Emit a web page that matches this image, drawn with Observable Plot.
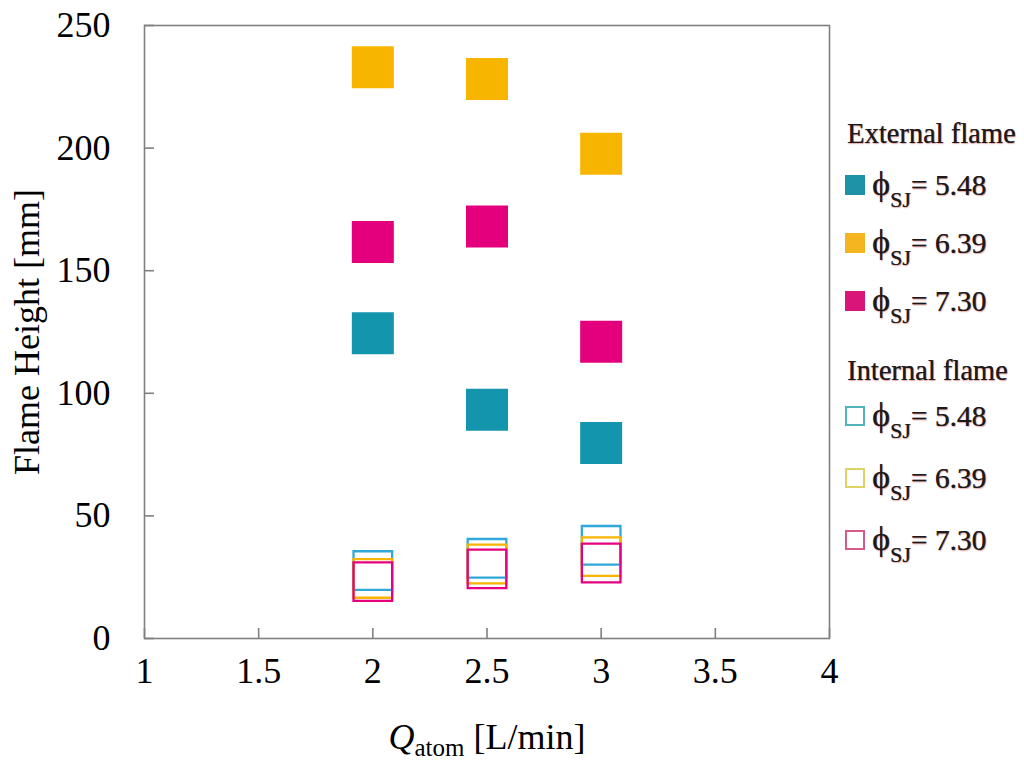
<!DOCTYPE html>
<html><head><meta charset="utf-8">
<script src="https://cdn.jsdelivr.net/npm/d3@7"></script>
<script src="https://cdn.jsdelivr.net/npm/@observablehq/plot@0.6"></script>
<style>
body{margin:0;background:#fff;}
#wrap{position:relative;width:1024px;height:760px;font-family:"Liberation Serif","Times New Roman",serif;}
#legend{position:absolute;left:845px;top:0;color:#1a1a1a;text-shadow:0.5px 0 0 rgba(40,20,20,0.6),0.8px 0.8px 1.2px rgba(200,40,40,0.45);}
.lt{position:absolute;left:2px;height:40px;line-height:40px;font-size:28.5px;white-space:nowrap;}
.row{position:absolute;left:0;height:40px;line-height:40px;font-size:29.5px;white-space:nowrap;padding-left:27px;}
.sw{position:absolute;left:0;top:10px;width:20px;height:20px;box-sizing:border-box;}
.phi{font-size:34px;line-height:0;}
.sub{font-size:22px;line-height:0;position:relative;top:12px;}
</style></head><body><div id="wrap"></div>
<script>
// ---- data ----
const qatom = [2, 2.5, 3];
// External flame heights [mm]
const ext548 = [124.5, 93.3, 79.7];
const ext639 = [233.0, 228.2, 197.7];
const ext730 = [161.7, 168.0, 121.0];
// Internal flame heights [mm]
const int548 = [27.7, 32.7, 38.0];
const int639 = [24.5, 30.4, 33.4];
const int730 = [23.2, 28.4, 30.8];
const phiLabels = ["5.48", "6.39", "7.30"];
const xTicks = [1, 1.5, 2, 2.5, 3, 3.5, 4];
const yTicks = [0, 50, 100, 150, 200, 250];

const extColors = ["#1396ad", "#f8b500", "#e4007c"];
const intColors = ["#30a8d8", "#f8b500", "#e5007f"];
const legExtColors = ["#1e93a8", "#f5b521", "#d9157a"];
const legIntColors = ["#4fb3b8", "#ded266", "#d45a8a"];

const extSeries = [ext548, ext639, ext730];
const intSeries = [int548, int639, int730];

const FONT = "'Liberation Serif','Times New Roman',serif";
const marks = [
  Plot.frame({stroke: "#808080", strokeWidth: 1.6}),
  Plot.axisX({ticks: xTicks, tickFormat: d => String(d), tickSize: -10, tickPadding: 29, stroke: "#808080", strokeWidth: 1.6,
    fontFamily: FONT, fontVariant: "normal", fill: "#000",
    label: "Qatom [L/min]", labelAnchor: "center", labelOffset: 110, labelArrow: false}),
  Plot.axisY({ticks: yTicks, tickFormat: d => String(d), tickSize: -10, tickPadding: 44, stroke: "#808080", strokeWidth: 1.6,
    fontFamily: FONT, fontVariant: "normal", fill: "#000",
    label: "Flame Height [mm]", labelAnchor: "center", labelOffset: 131, labelArrow: false})
];
extSeries.forEach((s, i) => {
  marks.push(Plot.dot(s, {x: qatom, y: d => d, fill: extColors[i], symbol: "square", r: 23.7}));
});
intSeries.forEach((s, i) => {
  marks.push(Plot.dot(s, {x: qatom, y: d => d, stroke: intColors[i], fill: "none", symbol: "square", r: 21.8, strokeWidth: 2.3}));
});

const plot = Plot.plot({
  width: 1024,
  height: 760,
  marginLeft: 144,
  marginRight: 195,
  marginTop: 25,
  marginBottom: 122,
  x: {domain: [1, 4]},
  y: {domain: [0, 250]},
  style: {fontFamily: FONT, fontSize: "36px", color: "#000", background: "#fff"},
  marks
});
document.getElementById("wrap").appendChild(plot);

// strip any label arrows and build the x label with italic Q and subscript
const yl = d3.select(plot).select('g[aria-label="y-axis label"] text');
if (!yl.empty()) yl.text("Flame Height [mm]");
const xl = d3.select(plot).select('g[aria-label="x-axis label"] text');
if (!xl.empty()) {
  xl.text(null);
  xl.append("tspan").attr("font-style", "italic").text("Q");
  xl.append("tspan").attr("font-size", "25px").attr("dy", "7").text("atom");
  xl.append("tspan").attr("dy", "-7").text(" [L/min]");
}

// legend
const legend = document.createElement("div");
legend.id = "legend";
const rowCentersExt = [185, 243, 301];
const rowCentersInt = [416, 478, 540];
function addTitle(text, baseline) {
  const d = document.createElement("div");
  d.className = "lt";
  d.style.top = (baseline - 29) + "px";
  d.textContent = text;
  legend.appendChild(d);
}
function addRow(center, color, filled, label) {
  const d = document.createElement("div");
  d.className = "row";
  d.style.top = (center - 20) + "px";
  const sw = document.createElement("span");
  sw.className = "sw";
  if (filled) sw.style.background = color;
  else sw.style.border = "2px solid " + color;
  d.appendChild(sw);
  d.insertAdjacentHTML("beforeend", '<span class="phi">\u03D5</span><span class="sub">SJ</span>= ' + label);
  legend.appendChild(d);
}
addTitle("External flame", 143);
phiLabels.forEach((l, i) => addRow(rowCentersExt[i], legExtColors[i], true, l));
addTitle("Internal flame", 380);
phiLabels.forEach((l, i) => addRow(rowCentersInt[i], legIntColors[i], false, l));
document.getElementById("wrap").appendChild(legend);
</script></body></html>
